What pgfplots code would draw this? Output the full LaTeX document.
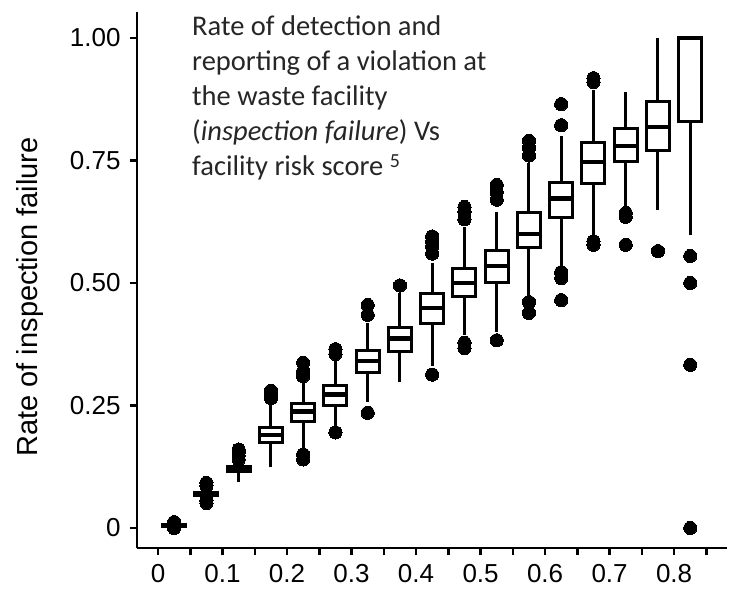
\documentclass[border=0pt]{standalone}
\usepackage{fontspec}
\usepackage{pgfplots}
\pgfplotsset{compat=1.18}
\usepgfplotslibrary{statistics}
\newfontfamily\tickfont{Liberation Sans}
\newfontfamily\titlefont{Carlito}
\definecolor{titlegray}{HTML}{262626}
\begin{document}
\begin{tikzpicture}
\useasboundingbox (-137bp,-55bp) rectangle (600bp,548bp);
\begin{axis}[
  at={(0,0)}, anchor=south west,
  scale only axis, width=590bp, height=536bp,
  xmin=-0.0326, xmax=0.882, ymin=-0.0408, ymax=1.053,
  axis x line*=bottom, axis y line*=left,
  axis line style={line width=2.5bp, black},
  tick align=outside, major tick length=7bp, minor tick length=7bp,
  tick style={line width=2.5bp, black},
  xtick={0,0.1,0.2,0.3,0.4,0.5,0.6,0.7,0.8},
  xticklabels={0,0.1,0.2,0.3,0.4,0.5,0.6,0.7,0.8},
  minor xtick={0.05,0.15,0.25,0.35,0.45,0.55,0.65,0.75,0.85},
  ytick={0,0.25,0.5,0.75,1},
  yticklabels={0,0.25,0.50,0.75,1.00},
  tick label style={font=\tickfont\fontsize{26bp}{28bp}\selectfont},
  xticklabel style={yshift=-6bp},
  yticklabel style={xshift=-6bp},
  /pgf/number format/assume math mode=true,
  clip=false,
  boxplot/draw direction=y,
  boxplot/box extend=0.0357,
  boxplot/whisker extend=0,
  boxplot/every box/.style={draw=black, fill=white, line width=3bp},
  boxplot/every whisker/.style={draw=black, line width=3bp},
  boxplot/every median/.style={draw=black, line width=4.5bp},
  every axis plot/.append style={mark=*, mark size=6.6bp, mark options={fill=black, draw=black, line width=0pt}},
]
\addplot[boxplot prepared={draw position=0.025, lower whisker=0.002, lower quartile=0.004, median=0.006, upper quartile=0.008, upper whisker=0.010}] coordinates {(0,0.0) (0,0.012)};
\addplot[boxplot prepared={draw position=0.075, lower whisker=0.060, lower quartile=0.066, median=0.069, upper quartile=0.072, upper whisker=0.080}] coordinates {(0,0.092) (0,0.086) (0,0.051) (0,0.056)};
\addplot[boxplot prepared={draw position=0.125, lower whisker=0.094, lower quartile=0.115, median=0.120, upper quartile=0.125, upper whisker=0.135}] coordinates {(0,0.140) (0,0.148) (0,0.155) (0,0.160)};
\addplot[boxplot prepared={draw position=0.175, lower whisker=0.125, lower quartile=0.175, median=0.190, upper quartile=0.206, upper whisker=0.250}] coordinates {(0,0.265) (0,0.273) (0,0.280)};
\addplot[boxplot prepared={draw position=0.225, lower whisker=0.155, lower quartile=0.218, median=0.238, upper quartile=0.254, upper whisker=0.300}] coordinates {(0,0.310) (0,0.320) (0,0.337) (0,0.150) (0,0.140)};
\addplot[boxplot prepared={draw position=0.275, lower whisker=0.205, lower quartile=0.250, median=0.272, upper quartile=0.290, upper whisker=0.340}] coordinates {(0,0.355) (0,0.365) (0,0.195)};
\addplot[boxplot prepared={draw position=0.325, lower whisker=0.257, lower quartile=0.318, median=0.341, upper quartile=0.362, upper whisker=0.418}] coordinates {(0,0.435) (0,0.455) (0,0.235)};
\addplot[boxplot prepared={draw position=0.375, lower whisker=0.298, lower quartile=0.360, median=0.387, upper quartile=0.410, upper whisker=0.480}] coordinates {(0,0.495)};
\addplot[boxplot prepared={draw position=0.425, lower whisker=0.330, lower quartile=0.418, median=0.449, upper quartile=0.478, upper whisker=0.540}] coordinates {(0,0.560) (0,0.575) (0,0.585) (0,0.595) (0,0.313)};
\addplot[boxplot prepared={draw position=0.475, lower whisker=0.394, lower quartile=0.472, median=0.500, upper quartile=0.530, upper whisker=0.615}] coordinates {(0,0.630) (0,0.645) (0,0.655) (0,0.378) (0,0.367)};
\addplot[boxplot prepared={draw position=0.525, lower whisker=0.400, lower quartile=0.500, median=0.535, upper quartile=0.567, upper whisker=0.645}] coordinates {(0,0.670) (0,0.685) (0,0.700) (0,0.383)};
\addplot[boxplot prepared={draw position=0.575, lower whisker=0.468, lower quartile=0.572, median=0.600, upper quartile=0.643, upper whisker=0.745}] coordinates {(0,0.760) (0,0.775) (0,0.790) (0,0.461) (0,0.439)};
\addplot[boxplot prepared={draw position=0.625, lower whisker=0.533, lower quartile=0.633, median=0.672, upper quartile=0.706, upper whisker=0.800}] coordinates {(0,0.822) (0,0.865) (0,0.522) (0,0.510) (0,0.465)};
\addplot[boxplot prepared={draw position=0.675, lower whisker=0.594, lower quartile=0.704, median=0.747, upper quartile=0.786, upper whisker=0.894}] coordinates {(0,0.910) (0,0.918) (0,0.585) (0,0.578)};
\addplot[boxplot prepared={draw position=0.725, lower whisker=0.655, lower quartile=0.747, median=0.780, upper quartile=0.816, upper whisker=0.890}] coordinates {(0,0.643) (0,0.635) (0,0.578)};
\addplot[boxplot prepared={draw position=0.775, lower whisker=0.649, lower quartile=0.771, median=0.818, upper quartile=0.871, upper whisker=1.000}] coordinates {(0,0.565)};
\addplot[boxplot prepared={draw position=0.825, lower whisker=0.598, lower quartile=0.830, median=1.000, upper quartile=1.000, upper whisker=1.000}] coordinates {(0,0.555) (0,0.500) (0,0.333) (0,0.0)};
\end{axis}
\node[rotate=90, font=\tickfont\fontsize{29bp}{32bp}\selectfont, inner sep=0pt] at (-107bp,251bp) {Rate of inspection failure};
\begin{scope}[every node/.style={anchor=base west, inner sep=0pt, text=titlegray, font=\titlefont\fontsize{28.5bp}{34bp}\selectfont}]
\node at (55bp,512bp) {Rate of detection and};
\node at (55bp,477bp) {reporting of a violation at};
\node at (55bp,442bp) {the waste facility};
\node at (55bp,407bp) {(\textit{inspection failure}) Vs};
\node at (55bp,372bp) {facility risk score \textsuperscript{5}};
\end{scope}
\end{tikzpicture}
\end{document}
